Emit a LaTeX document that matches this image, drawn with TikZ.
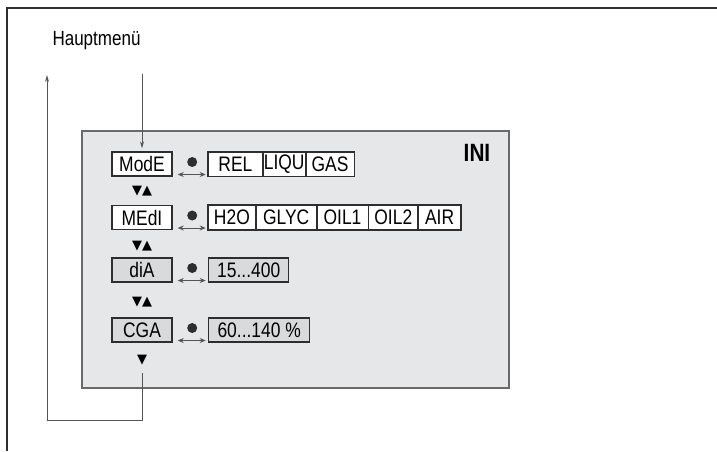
\documentclass[tikz,border=0pt]{standalone}
\usepackage{fontspec}
\setmainfont{Liberation Sans}[FakeStretch=0.83]
\newfontfamily\symfont{DejaVu Sans}
\usetikzlibrary{positioning,arrows.meta}
\definecolor{panel}{HTML}{E6E7E8}
\definecolor{panelline}{HTML}{6A6A6A}
\definecolor{boxline}{HTML}{2E2E2E}
\definecolor{greybox}{HTML}{D9DADB}
\definecolor{wire}{HTML}{555555}
% bullet and double arrow to the right of a menu box
\newcommand{\pressmark}[1]{%
  \fill[boxline] ([xshift=19.5pt,yshift=2pt]#1.east) circle (5pt);
  \draw[wire, {Stealth[length=6pt,width=5pt]}-{Stealth[length=6pt,width=5pt]}]
    ([xshift=5pt,yshift=-10.5pt]#1.east) -- ++(28,0);
}
\tikzset{
  menubox/.style={draw=boxline, line width=1.4pt, fill=white, minimum width=60pt,
    minimum height=24pt, inner sep=0pt, font=\fontsize{21}{21}\selectfont},
  cell/.style={draw=boxline, line width=0.8pt, fill=white, minimum height=24pt,
    inner sep=0pt, anchor=west, font=\fontsize{21}{21}\selectfont},
  wire/.style={draw=wire, line width=0.8pt},
  updown/.style={inner sep=0pt, font=\symfont\fontsize{13}{13}\selectfont},
}

\begin{document}
\begin{tikzpicture}[x=1pt, y=-1pt]
    \useasboundingbox (0,0) rectangle (717,451);
    \draw[boxline, line width=1.5pt] (7,451) -- (7,8) -- (717,8);
    \fill[panel] (82,131) rectangle (509,388);
    \draw[panelline, line width=1.4pt] (82,131) rectangle (509,388);

    \node[anchor=west, font=\fontsize{20.5}{20.5}\selectfont] (haupt) at (49,41) {Hauptmenü};
    \node[font=\bfseries\fontsize{25}{25}\selectfont] (ini) at (477,153) {INI};

    % menu column
    \node[menubox] (mode) at (142,164) {ModE};
    \node[menubox] (medi) at (142,217.5) {MEdI};
    \node[menubox, fill=greybox] (dia) at (142,270) {diA};
    \node[menubox, fill=greybox] (cga) at (142,330) {CGA};

    \node[updown] (ud1) at (142,191) {▼▲};
    \node[updown] (ud2) at (142,246) {▼▲};
    \node[updown] (ud3) at (142,302) {▼▲};
    \node[updown] (dn) at (142,360) {▼};

    % settings
    \node[cell, minimum width=54pt] (rel) at (208,164) {REL};
    \node[cell, minimum width=42pt, right=0pt of rel] (liqu) {LIQU};
    \node[cell, minimum width=48pt, right=0pt of liqu] (gas) {GAS};
    \draw[boxline, line width=1.4pt] (rel.north west) rectangle (gas.south east);

    \node[cell, minimum width=47pt] (htwo) at (208,217.5) {H2O};
    \node[cell, minimum width=60pt, right=0pt of htwo] (glyc) {GLYC};
    \node[cell, minimum width=51pt, right=0pt of glyc] (oila) {OIL1};
    \node[cell, minimum width=49pt, right=0pt of oila] (oilb) {OIL2};
    \node[cell, minimum width=42pt, right=0pt of oilb] (air) {AIR};
    \draw[boxline, line width=1.4pt] (htwo.north west) rectangle (air.south east);

    \node[cell, fill=greybox, line width=1.4pt, minimum width=80pt] (diarange) at (208,270) {15...400};
    \node[cell, fill=greybox, line width=1.4pt, minimum width=101pt] (cgarange) at (208,330) {60...140 \%};

    \pressmark{mode}
    \pressmark{medi}
    \pressmark{dia}
    \pressmark{cga}

    % entry and return
    \coordinate (entry) at (142,74);
    \coordinate (loopstart) at (142,373);
    \coordinate (back) at (47,75);
    \draw[wire, -{Stealth[length=7pt,width=4pt]}] (entry) -- ([yshift=3pt]mode.north);
    \draw[wire, -{Stealth[length=7pt,width=4pt]}] (loopstart) -- (142,420) -| (back);
\end{tikzpicture}
\end{document}
